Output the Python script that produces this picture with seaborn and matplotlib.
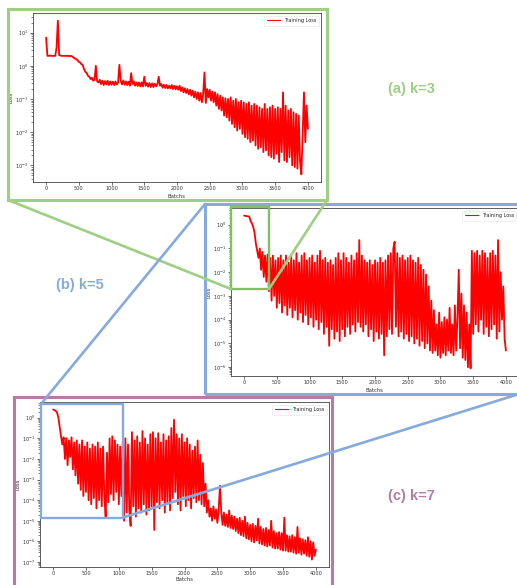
import numpy as np
import pandas as pd
import matplotlib
matplotlib.use("Agg")
import matplotlib.pyplot as plt
import seaborn as sns
from matplotlib.patches import Rectangle
from matplotlib.lines import Line2D
from matplotlib.ticker import NullFormatter

# ---------------- data (log10 of loss) ----------------
batches = list(range(0, 4001, 20))

loss_k3_exp = [
    0.85, 0.3, 0.3, 0.31, 0.3, 0.3, 0.3, 0.3, 0.55, 1.36,            # 0-180
    0.32, 0.31, 0.3, 0.3, 0.3, 0.3, 0.3, 0.3, 0.29, 0.3,              # 200-380
    0.28, 0.25, 0.22, 0.2, 0.17, 0.12, 0.1, 0.05, 0.02, -0.1,         # 400-580
    -0.18, -0.22, -0.3, -0.33, -0.4, -0.36, -0.45, -0.42, 0.0, -0.47, # 600-780
    -0.5, -0.42, -0.55, -0.45, -0.58, -0.46, -0.56, -0.45, -0.58, -0.47,
    -0.57, -0.48, -0.58, -0.47, -0.56, -0.5, 0.03, -0.45, -0.56, -0.44,
    -0.57, -0.47, -0.58, -0.48, -0.6, -0.22, -0.55, -0.47, -0.6, -0.5,
    -0.61, -0.5, -0.62, -0.5, -0.62, -0.33, -0.6, -0.52, -0.63, -0.52,
    -0.64, -0.53, -0.64, -0.54, -0.62, -0.56, -0.33, -0.6, -0.55, -0.66,
    -0.57, -0.67, -0.58, -0.68, -0.6, -0.68, -0.58, -0.7, -0.6, -0.71,
    -0.62, -0.72, -0.6, -0.76, -0.65, -0.8, -0.68, -0.82, -0.7, -0.86,
    -0.72, -0.9, -0.75, -0.95, -0.78, -1.0, -0.8, -1.05, -0.82, -1.1,
    -0.85, -0.2, -1.12, -0.7, -0.95, -0.72, -1.05, -0.78, -1.1, -0.8,
    -1.2, -0.85, -1.3, -0.9, -1.35, -0.95, -1.5, -0.98, -1.55, -1.0,
    -1.65, -0.95, -1.75, -1.05, -1.85, -1.0, -1.95, -1.1, -1.9, -1.05,
    -2.05, -1.1, -2.15, -1.15, -2.2, -1.1, -2.3, -1.2, -2.25, -1.15,
    -2.4, -1.2, -2.5, -1.25, -2.45, -1.3, -2.6, -1.15, -2.55, -1.3,
    -2.7, -1.25, -2.75, -1.2, -2.8, -1.3, -2.65, -1.25, -2.9, -1.3,
    -2.6, -0.8, -2.85, -1.2, -2.9, -1.35, -2.75, -1.3, -3.0, -1.4,
    -3.05, -1.45, -3.1, -1.5, -2.9, -3.27, -2.0, -0.8, -2.3, -1.2,
    -1.9,
]

loss_k5_exp = [
    0.38, 0.37, 0.36, 0.35, 0.33, 0.15, 0.05, -0.1, -0.35, -0.8,
    -1.1, -1.4, -1.0, -1.9, -1.15, -2.2, -1.3, -2.4, -1.25, -2.8,
    -1.4, -3.2, -1.3, -3.0, -1.5, -3.5, -1.4, -3.3, -1.3, -3.7,
    -1.5, -3.4, -1.3, -3.8, -1.6, -3.5, -1.3, -3.9, -1.5, -3.6,
    -1.2, -4.0, -1.6, -3.7, -1.3, -4.1, -1.2, -3.8, -1.5, -4.2,
    -1.4, -3.9, -1.3, -4.3, -1.6, -4.0, -1.3, -4.4, -1.1, -4.1,
    -1.5, -4.6, -1.4, -4.3, -1.6, -5.1, -1.5, -4.4, -1.7, -4.8,
    -1.4, -4.5, -1.2, -4.9, -1.5, -4.4, -1.2, -4.7, -1.4, -4.3,
    -1.6, -4.6, -1.3, -4.2, -1.5, -4.5, -1.2, -4.1, -0.65, -4.3,
    -1.3, -4.5, -1.5, -4.2, -1.6, -4.7, -1.5, -4.4, -1.7, -4.9,
    -1.5, -4.5, -1.6, -4.8, -1.4, -4.6, -1.6, -5.5, -1.5, -4.7,
    -1.3, -4.4, -1.2, -4.6, -1.0, -0.72, -4.3, -1.2, -4.7, -1.4,
    -4.5, -1.3, -4.8, -1.5, -4.6, -1.4, -4.9, -1.3, -4.7, -1.5,
    -5.0, -1.6, -4.8, -1.4, -5.1, -1.7, -4.9, -1.9, -5.2, -2.1,
    -5.0, -2.6, -5.3, -3.2, -5.4, -3.6, -5.3, -4.2, -5.5, -3.7,
    -5.6, -4.1, -5.4, -3.9, -5.5, -4.0, -5.3, -3.5, -5.4, -4.2,
    -5.5, -3.4, -5.3, -3.9, -1.9, -5.2, -2.9, -5.6, -3.4, -5.7,
    -3.7, -6.0, -4.2, -6.05, -1.1, -4.6, -1.2, -4.2, -1.1, -4.5,
    -1.3, -4.0, -1.1, -4.6, -1.2, -4.3, -1.4, -4.7, -1.2, -4.4,
    -1.1, -4.2, -1.3, -4.8, -0.65, -4.5, -2.0, -4.0, -2.6, -4.8,
    -5.3,
]

loss_k7_exp = [
    0.4, 0.37, 0.33, 0.25, 0.0, -0.45, -0.9, -1.3, -0.95, -2.0,
    -1.0, -2.3, -1.1, -1.9, -0.95, -2.5, -1.2, -2.8, -1.1, -3.2,
    -1.3, -3.5, -1.1, -3.8, -1.4, -3.6, -1.2, -4.0, -1.5, -4.2,
    -1.3, -3.9, -1.4, -4.4, -1.2, -4.0, -1.5, -4.3, -1.4, -3.8,
    -4.85, -1.7, -4.1, -1.0, -3.7, -0.9, -4.0, -1.1, -3.6, -1.3,
    -4.2, -1.4, -3.8, -1.2, -5.0, -1.0, -4.6, -1.3, -4.5, -5.25,
    -0.7, -4.3, -1.1, -4.8, -0.9, -4.4, -1.2, -4.6, -0.65, -4.2,
    -1.0, -4.7, -1.3, -4.5, -0.8, -4.3, -0.7, -5.45, -1.0, -4.1,
    -0.75, -4.4, -1.2, -4.0, -0.8, -4.6, -1.1, -4.2, -0.9, -4.5,
    -0.5, -3.9, -0.1, -3.6, -0.8, -4.2, -1.0, -4.5, -0.8, -3.8,
    -1.2, -4.3, -1.0, -4.0, -1.3, -4.4, -1.6, -3.9, -1.4, -4.1,
    -1.1, -4.0, -1.8, -4.2, -2.2, -4.3, -3.2, -4.6, -4.0, -4.8,
    -4.4, -5.0, -4.3, -4.9, -4.45, -5.1, -4.5, -3.3, -4.6, -5.2,
    -4.6, -5.25, -4.7, -5.3, -4.5, -5.35, -4.75, -5.4, -4.8, -5.5,
    -4.9, -5.6, -4.85, -5.7, -5.0, -5.75, -4.8, -5.85, -5.1, -5.9,
    -5.2, -6.0, -5.15, -6.05, -5.25, -5.95, -4.9, -6.1, -5.3, -6.15,
    -5.4, -6.2, -5.35, -6.25, -5.45, -6.2, -5.0, -6.3, -5.5, -6.35,
    -5.6, -6.35, -5.55, -6.4, -5.6, -6.45, -4.85, -6.45, -5.7, -6.5,
    -5.75, -6.5, -5.7, -6.55, -5.8, -6.6, -5.3, -6.55, -5.85, -6.65,
    -5.9, -6.6, -5.95, -6.7, -5.8, -6.75, -6.0, -6.88, -6.05, -6.7,
    -6.4,
]

# decade ticks shown on each panel's y axis (exponents)
ytick_exp_k3 = [1, 0, -1, -2, -3]
ytick_exp_k5 = [0, -1, -2, -3, -4, -5, -6]
ytick_exp_k7 = [0, -1, -2, -3, -4, -5, -6, -7]

panel_labels = ["(a) k=3", "(b) k=5", "(c) k=7"]
legend_label = "Training Loss"
x_label = "Batchs"
y_label = "Loss"

# ---------------- style ----------------
sns.set_style("ticks")
plt.rcParams["font.family"] = ["DejaVu Sans"]
plt.rcParams["axes.edgecolor"] = "#444444"
plt.rcParams["axes.linewidth"] = 0.6

W, H = 517, 585
fig = plt.figure(figsize=(W / 100, H / 100), dpi=100)
fig.patch.set_facecolor("white")


def fx(x):
    return x / W


def fy(y):
    return 1 - y / H


def make_axes(l, t, r, b):
    return fig.add_axes([fx(l), fy(b), (r - l) / W, (b - t) / H])


def draw(ax, exps, ytick_exps, xlabelpad=1.5):
    df = pd.DataFrame({x_label: batches, y_label: 10.0 ** np.array(exps)})
    sns.lineplot(data=df, x=x_label, y=y_label, ax=ax, color="red",
                 lw=1.3, label=legend_label, estimator=None)
    ax.set_yscale("log")
    ax.set_yticks([10.0 ** e for e in ytick_exps])
    ax.yaxis.set_minor_formatter(NullFormatter())
    ax.tick_params(axis="both", which="major", labelsize=3.6, length=2,
                   width=0.5, pad=1.2, colors="#333333")
    ax.tick_params(axis="y", which="minor", length=1.2, width=0.4)
    ax.set_xticks([0, 500, 1000, 1500, 2000, 2500, 3000, 3500, 4000])
    ax.set_xlabel(x_label, fontsize=3.8, labelpad=xlabelpad, color="#333333")
    ax.set_ylabel(y_label, fontsize=3.8, labelpad=1, color="#333333")
    leg = ax.legend(loc="upper right", fontsize=3.6, handlelength=2.6,
                    frameon=True, borderpad=0.5, fancybox=True)
    leg.get_frame().set_edgecolor("#dddddd")
    leg.get_frame().set_linewidth(0.4)
    for h in leg.legend_handles:
        h.set_color("red")
        h.set_linewidth(0.8)


GREEN = "#9dd083"
GREEN_D = "#82bd68"
BLUE = "#84aadf"
PURPLE = "#b57ca8"

ax_a = make_axes(33, 13, 321, 182)
draw(ax_a, loss_k3_exp, ytick_exp_k3)

ax_b = make_axes(231, 208, 519, 376)
draw(ax_b, loss_k5_exp, ytick_exp_k5)

ax_c = make_axes(40, 402, 329, 567)
draw(ax_c, loss_k7_exp, ytick_exp_k7, xlabelpad=0.5)


def frame(l, t, r, b, color, lw):
    rect = Rectangle((fx(l), fy(b)), (r - l) / W, (b - t) / H,
                     transform=fig.transFigure, fill=False, ec=color, lw=lw,
                     joinstyle="miter")
    fig.add_artist(rect)


def seg(x1, y1, x2, y2, color, lw):
    fig.add_artist(Line2D([fx(x1), fx(x2)], [fy(y1), fy(y2)],
                          transform=fig.transFigure, color=color, lw=lw,
                          solid_capstyle="round"))


# panel borders
frame(8, 9, 327, 200, GREEN, 2.2)
frame(205, 204, 522, 394, BLUE, 2.2)
frame(14, 397, 332, 592, PURPLE, 2.2)

# zoom region in (b) and connectors to (a)
frame(231, 207, 269, 289, GREEN_D, 1.7)
seg(8, 200, 231, 289, GREEN, 1.9)
seg(327, 200, 269, 289, GREEN, 1.9)

# zoom region in (c) and connectors to (b)
frame(41, 404, 123, 517.5, BLUE, 1.7)
seg(41, 404, 205, 204, BLUE, 1.9)
seg(519, 394, 123, 517.5, BLUE, 1.9)

# panel captions
fig.text(fx(411), fy(89), panel_labels[0], color=GREEN, fontsize=10.5,
         fontweight="bold", ha="center", va="center", family=["Liberation Sans"])
fig.text(fx(80), fy(285), panel_labels[1], color=BLUE, fontsize=10.5,
         fontweight="bold", ha="center", va="center", family=["Liberation Sans"])
fig.text(fx(411), fy(496), panel_labels[2], color=PURPLE, fontsize=10.5,
         fontweight="bold", ha="center", va="center", family=["Liberation Sans"])

fig.savefig("out.png", dpi=100, facecolor="white")
